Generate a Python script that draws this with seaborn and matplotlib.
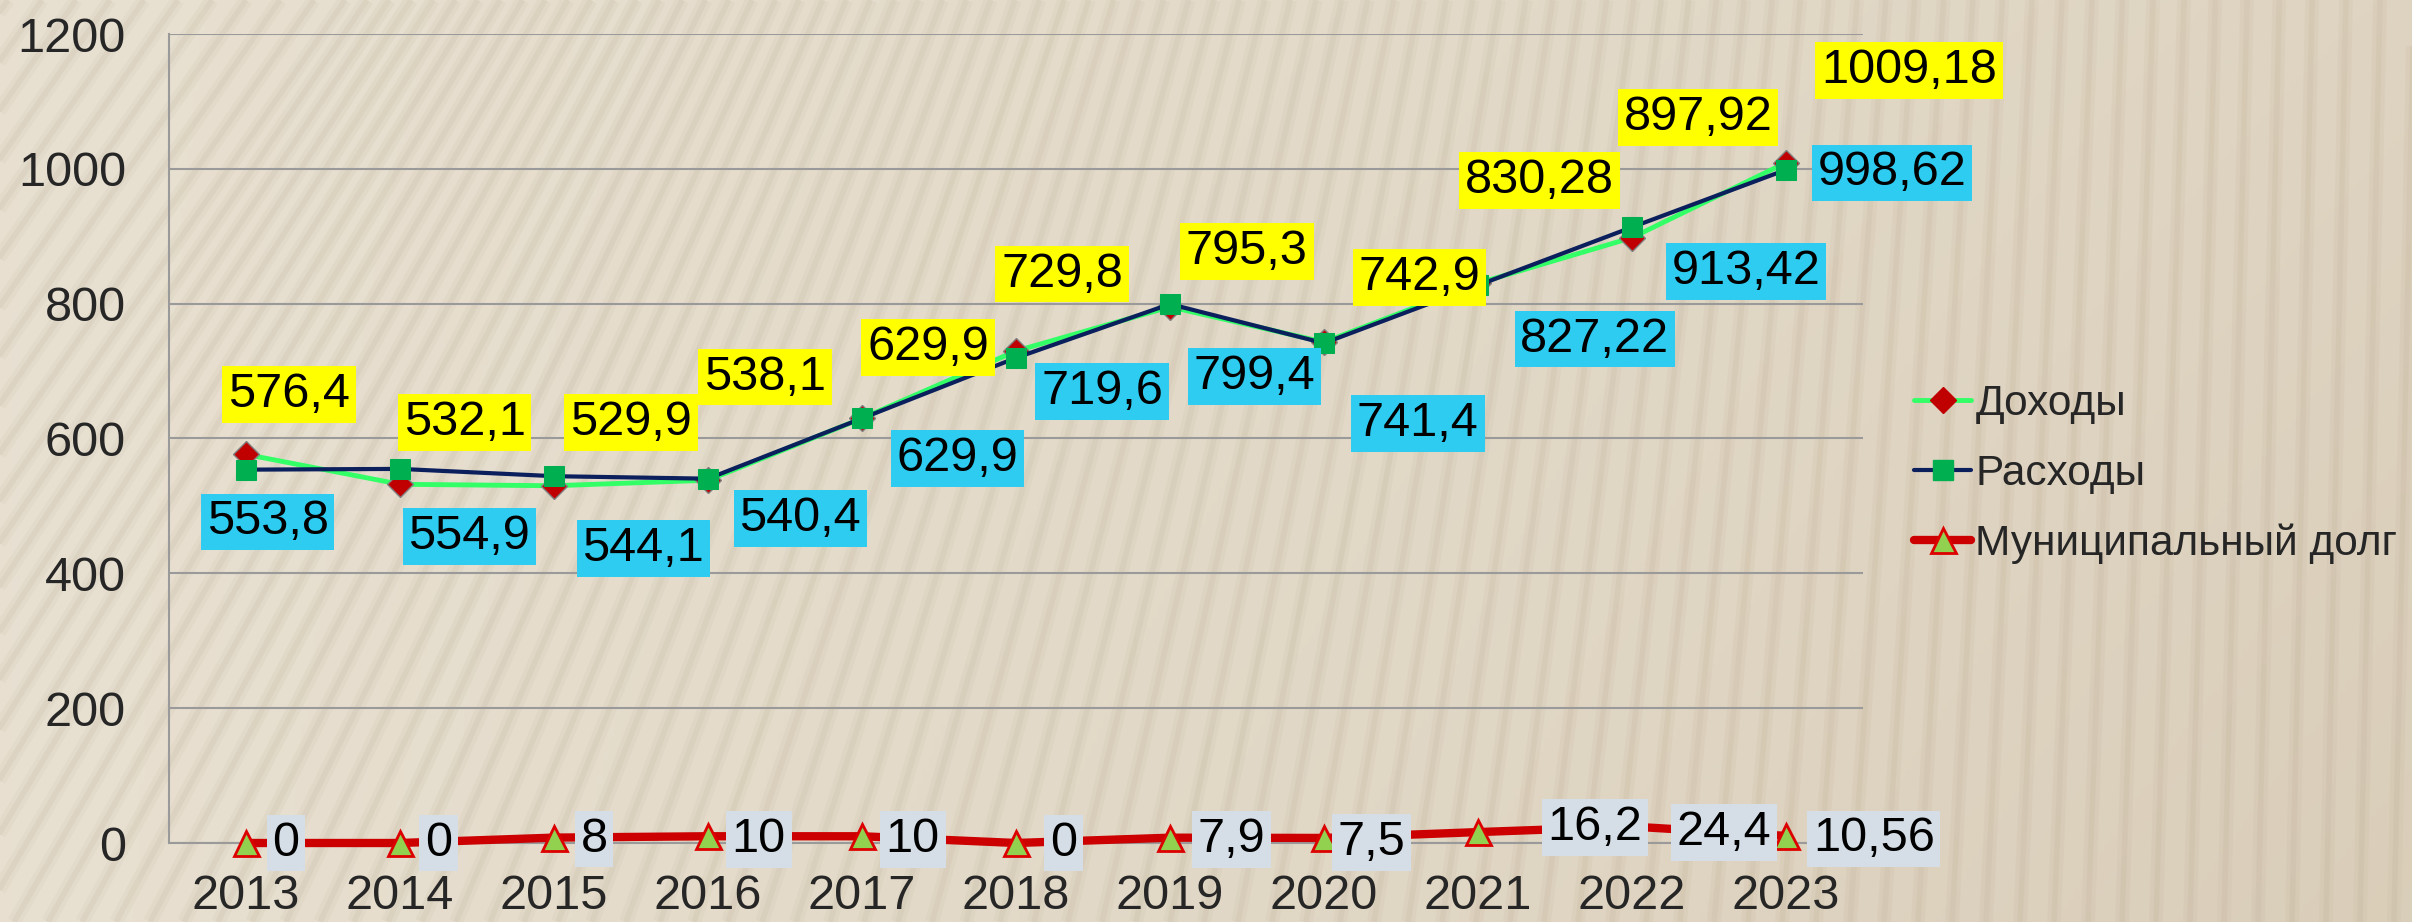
import numpy as np
import pandas as pd
import matplotlib
matplotlib.use("Agg")
import matplotlib.pyplot as plt
import seaborn as sns
from matplotlib.lines import Line2D

years = [2013, 2014, 2015, 2016, 2017, 2018, 2019, 2020, 2021, 2022, 2023]
dohody = [576.4, 532.1, 529.9, 538.1, 629.9, 729.8, 795.3, 742.9, 830.28, 897.92, 1009.18]
rashody = [553.8, 554.9, 544.1, 540.4, 629.9, 719.6, 799.4, 741.4, 827.22, 913.42, 998.62]
dolg = [0, 0, 8, 10, 10, 0, 7.9, 7.5, 16.2, 24.4, 10.56]
series_names = ["Доходы", "Расходы", "Муниципальный долг"]

# label offsets (points)
k = 1.1077
off_doh = [(28, -39), (42, -40), (50, -41), (37, -67), (43, -46), (30, -50),
           (50, -36), (62, -42), (40, -67), (43, -78), (80, -60)]
off_ras = [(14, 34), (45, 44), (58, 47), (60, 26), (62, 26), (56, 22),
           (55, 47), (61, 52), (76, 35), (74, 29), (69, 2)]
off_dolg = [(26, 0), (25, 0), (26, 1), (33, 2), (33, 2), (31, 0),
            (40, 1), (31, 3), (76, -3), (60, 4), (57, 2)]

df = pd.DataFrame({"idx": range(len(years)), "year": years,
                   "dohody": dohody, "rashody": rashody, "dolg": dolg})

sns.set_style("white")
plt.rcParams["font.family"] = ["Liberation Sans", "DejaVu Sans"]

fig = plt.figure(figsize=(24.12, 9.22), dpi=100)

# background: beige gradient with soft curved stripes
bg = fig.add_axes([0, 0, 1, 1])
bg.set_axis_off()
gx = np.linspace(0, 1, 400)
gy = np.linspace(0, 1, 200)
GX, GY = np.meshgrid(gx, gy)
shade = 0.22 * GX + 0.12 * GX * (1 - GY) + 0.08 * np.clip(GX - 0.6, 0, 1)
c0 = np.array([0.910, 0.878, 0.820])
c1 = np.array([0.76, 0.69, 0.57])
img = c0[None, None, :] * (1 - shade[..., None]) + c1[None, None, :] * shade[..., None]
bg.imshow(img, extent=[0, 2412, 0, 922], origin="lower", aspect="auto")
for x0 in np.arange(-700, 2600, 34):
    t = np.clip((x0 + 300) / 2600, 0, 1)
    lean = 620 * (1 - t) ** 1.5 + 20
    bg.plot([x0, x0 + lean], [0, 922], color="#9c8a6a", alpha=0.06, lw=10,
            solid_capstyle="butt")
    bg.plot([x0, x0 + lean], [0, 922], color="#9c8a6a", alpha=0.08, lw=4,
            solid_capstyle="butt")
bg.set_xlim(0, 2412)
bg.set_ylim(0, 922)

ax = fig.add_axes([169 / 2412, 1 - 843 / 922, (1863 - 169) / 2412, (843 - 34) / 922])
ax.patch.set_alpha(0)

sns.lineplot(data=df, x="idx", y="dohody", ax=ax, color="#33FF66", lw=3.5,
             marker="D", markersize=13, markerfacecolor="#C00000",
             markeredgecolor="#808080", markeredgewidth=1, zorder=3)
sns.lineplot(data=df, x="idx", y="rashody", ax=ax, color="#0A1F5C", lw=3,
             marker="s", markersize=15, markerfacecolor="#00B050",
             markeredgecolor="#00B050", zorder=4)
sns.lineplot(data=df, x="idx", y="dolg", ax=ax, color="#CC0000", lw=6,
             marker="^", markersize=18, markerfacecolor="#92D050",
             markeredgecolor="#DD0000", markeredgewidth=2, zorder=5, clip_on=False)


def fmt(v):
    s = ("%.2f" % v).rstrip("0").rstrip(".")
    return s.replace(".", ",")


def put_labels(vals, offs, face):
    for i, v in enumerate(vals):
        dx, dy = offs[i]
        ax.annotate(fmt(v), (i, v), xytext=(dx * k, -dy * k), textcoords="offset points",
                    ha="center", va="center", fontsize=35, color="black", zorder=6,
                    bbox=dict(boxstyle="square,pad=0.12", fc=face, ec="none"),
                    annotation_clip=False)


put_labels(dohody, off_doh, "#FFFF00")
put_labels(rashody, off_ras, "#2ECCF0")
put_labels(dolg, off_dolg, "#D5DEE6")

ax.set_xlim(-0.5, len(years) - 0.5)
ax.set_ylim(0, 1200)
ax.set_yticks(range(0, 1201, 200))
ax.set_xticks(range(len(years)))
ax.set_xticklabels(years)
ax.set_xticks(np.arange(-0.5, len(years), 1), minor=True)
ax.grid(axis="y", color="#9a9a9a", lw=1.5)
ax.set_axisbelow(True)
ax.set_xlabel("")
ax.set_ylabel("")
for s in ["top", "right"]:
    ax.spines[s].set_visible(False)
ax.spines["left"].set_color("#9a9a9a")
ax.spines["bottom"].set_color("#9a9a9a")
ax.spines["left"].set_linewidth(1.5)
ax.spines["bottom"].set_linewidth(1.5)
ax.tick_params(axis="y", length=11, width=1.5, color="#9a9a9a", pad=20, labelsize=35)
ax.tick_params(axis="x", which="major", length=0, pad=22, labelsize=35)
ax.tick_params(axis="x", which="minor", length=11, width=1.5, color="#9a9a9a", direction="out")

handles = [
    Line2D([], [], color="#33FF66", lw=3.5, marker="D", markersize=13,
           markerfacecolor="#C00000", markeredgecolor="#C00000"),
    Line2D([], [], color="#0A1F5C", lw=3, marker="s", markersize=15,
           markerfacecolor="#00B050", markeredgecolor="#00B050"),
    Line2D([], [], color="#CC0000", lw=6, marker="^", markersize=18,
           markerfacecolor="#92D050", markeredgecolor="#DD0000", markeredgewidth=2),
]
fig.legend(handles, series_names, loc="center left", bbox_to_anchor=(1897 / 2412, 1 - 474 / 922),
           frameon=False, fontsize=30.5, handlelength=1.35, handletextpad=0.1,
           labelspacing=0.7, borderaxespad=0)

fig.savefig("out.png", dpi=100)
